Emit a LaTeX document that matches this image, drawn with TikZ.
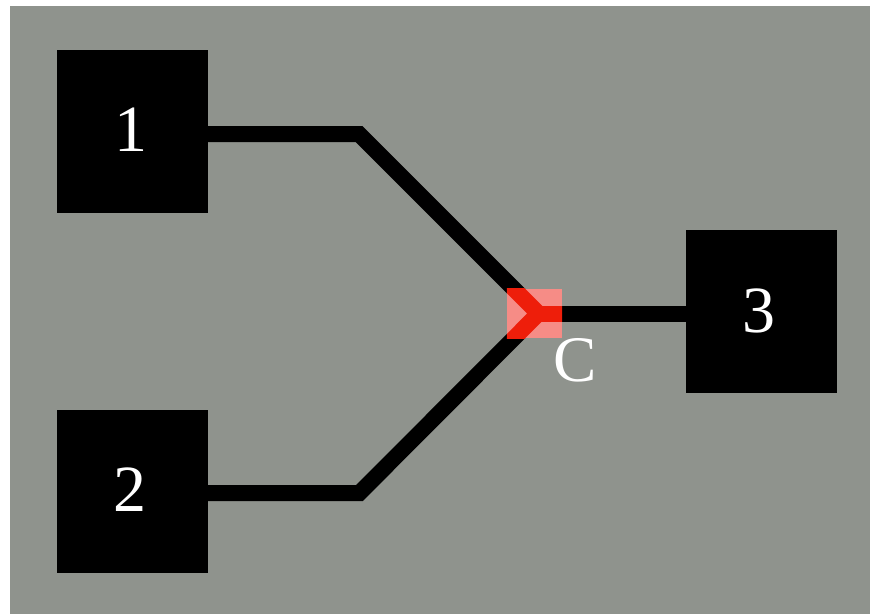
\documentclass[tikz,border=0pt]{standalone}
\usepackage{fontspec}
\setmainfont{Liberation Serif}
\definecolor{panelgray}{RGB}{143,147,141}
\definecolor{hotpink}{RGB}{246,140,134}
\definecolor{hotred}{RGB}{238,30,10}
\tikzset{
  unitbox/.style={rectangle, fill=black, inner sep=0pt,
    minimum width=151pt, minimum height=163pt},
  unitlabel/.style={text=white, inner sep=0pt,
    font=\fontsize{66}{66}\selectfont},
  wire/.style={line width=16pt, line join=miter, draw=black},
  hotwire/.style={wire, draw=hotred},
  joinmark/.style={rectangle, fill=hotpink, inner sep=0pt,
    minimum width=55pt, minimum height=49pt},
  joinlabel/.style={text=white, inner sep=0pt, font=\fontsize{65}{65}\selectfont}
}
\begin{document}
\begin{tikzpicture}[x=1pt, y=-1pt]
  \useasboundingbox (0,0) rectangle (870,614);
  % backdrop panel
  \fill[panelgray] (10,6) rectangle (870,614);

  % the three units
  \node[unitbox] (b1) at (132.5,131.5) {};
  \node[unitbox] (b2) at (132.5,491) {};
  \node[unitbox] (b3) at (761.5,311.5) {};
  \node[unitlabel] (t1) at ([shift={(-2,-1.5)}]b1.center) {1};
  \node[unitlabel] (t2) at ([shift={(-3,-1.5)}]b2.center) {2};
  \node[unitlabel] (t3) at ([shift={(-3,-0.5)}]b3.center) {3};

  % bends and the merge point
  \coordinate (k1) at (359,134);
  \coordinate (k2) at (359.5,493);
  \coordinate (j) at (538.5,313.5);

  % wiring
  \draw[wire] (b1.east |- k1) -- (k1) -- (j);
  \draw[wire] (b2.east |- k2) -- (k2) -- (j);
  \draw[wire] (j) -- (b3.west |- j);

  % highlighted merge
  \node[joinmark] (cj) at (534.5,313.5) {};
  \begin{scope}
    \clip (cj.south west) rectangle (cj.north east);
    \draw[hotwire] (k1) -- (j) -- (k2);
    \draw[hotwire] (j) -- (b3.west |- j);
  \end{scope}
  \node[joinlabel] (cl) at (575,360) {C};
\end{tikzpicture}
\end{document}
